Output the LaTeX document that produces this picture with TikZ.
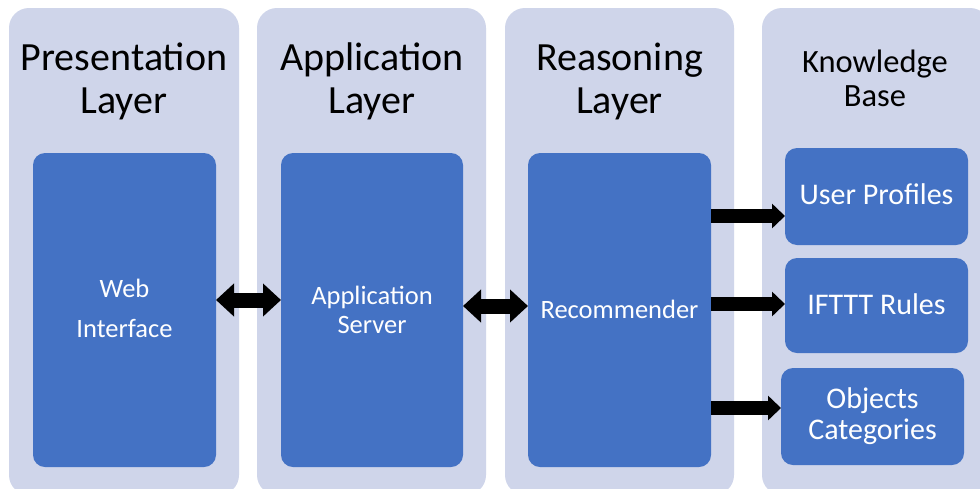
\documentclass[tikz,border=0pt]{standalone}
\usepackage{fontspec}
\setmainfont{Carlito}
\usetikzlibrary{arrows.meta}
\definecolor{panelc}{HTML}{CFD5EA}
\definecolor{boxc}{HTML}{4472C4}
\begin{document}
\begin{tikzpicture}[x=1pt,y=-1pt,
  panel/.style={fill=panelc, rounded corners=20pt, inner sep=0pt, outer sep=0pt},
  box/.style={fill=boxc, rounded corners=12pt, inner sep=0pt, outer sep=0pt},
  title/.style={font=\fontsize{40}{43}\selectfont, align=center, inner sep=0pt, anchor=base, text=black},
  kbtitle/.style={font=\fontsize{32.5}{34}\selectfont, align=center, inner sep=0pt, anchor=base, text=black},
  btext/.style={font=\fontsize{26.5}{#1}\selectfont, align=center, inner sep=0pt, anchor=base, text=white},
  btext/.default=30,
  kbtext/.style={font=\fontsize{30}{31}\selectfont, align=center, inner sep=0pt, anchor=base, text=white},
  dbl/.style={line width=15pt, {Triangle[width=32pt,length=18pt]}-{Triangle[width=32pt,length=18pt]}},
  single/.style={line width=14pt, -{Triangle[width=24pt,length=13pt]}}
]
\useasboundingbox (0,0) rectangle (980,488);
\clip (0,0) rectangle (980,488);
\fill[white] (0,0) rectangle (980,488);

% panels (they run past the bottom edge)
\node[panel, minimum width=230pt, minimum height=487pt] (p1) at (124,251.5) {};
\node[panel, minimum width=229pt, minimum height=487pt] (p2) at (371.5,251.5) {};
\node[panel, minimum width=229pt, minimum height=487pt] (p3) at (619.5,251.5) {};
\node[panel, minimum width=228pt, minimum height=487pt] (p4) at (876,251.5) {};

% titles (anchor base = last line's baseline)
\node[title] (t1) at (124,113) {Presentation\\Layer};
\node[title] (t2) at (372,113) {Application\\Layer};
\node[title] (t3) at (619.5,113) {Reasoning\\Layer};
\node[kbtitle] (t4) at (875,106) {Knowledge\\Base};

% main boxes
\node[box, minimum width=183pt, minimum height=314pt] (b1) at (124.5,310) {};
\node[box, minimum width=182pt, minimum height=314pt] (b2) at (372,310) {};
\node[box, minimum width=183pt, minimum height=314pt] (b3) at (619.5,310) {};

% knowledge base boxes
\node[box, minimum width=183pt, minimum height=97pt] (up) at (876.5,196.5) {};
\node[box, minimum width=183pt, minimum height=95pt] (ru) at (876.5,305.5) {};
\node[box, minimum width=183pt, minimum height=97pt] (ob) at (872.5,416.5) {};

% box texts
\node[btext=40] (w1) at (124.5,337) {Web\\Interface};
\node[btext=29] (w2) at (372,333) {Application\\Server};
\node[btext] (w3) at (619.5,318) {Recommender};
\node[kbtext] (k1) at (876.5,204) {User Profiles};
\node[kbtext] (k2) at (876.5,314) {IFTTT Rules};
\node[kbtext] (k3) at (872.5,439) {Objects\\Categories};

% arrows
\coordinate (ya) at (0,300);
\coordinate (yb) at (0,306);
\coordinate (yc) at (0,216);
\coordinate (yd) at (0,304);
\coordinate (ye) at (0,408);
\draw[dbl] (b1.east |- ya) -- (b2.west |- ya);
\draw[dbl] (b2.east |- yb) -- (b3.west |- yb);
\draw[single] (b3.east |- yc) -- (up.west |- yc);
\draw[single] (b3.east |- yd) -- (ru.west |- yd);
\draw[single] (b3.east |- ye) -- (ob.west |- ye);
\end{tikzpicture}
\end{document}
